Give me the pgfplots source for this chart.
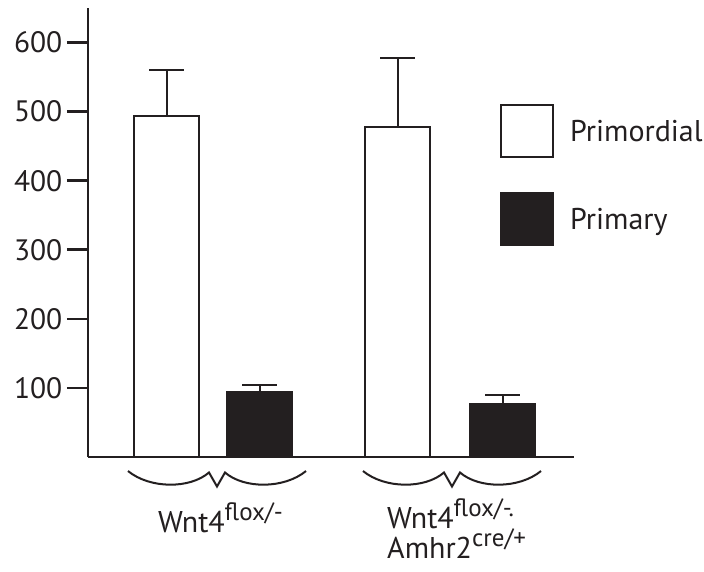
\documentclass[border=0pt]{standalone}
\usepackage{pgfplots}
\pgfplotsset{compat=1.18}
\usepackage{fontspec}
\setmainfont{PT Sans}
\definecolor{ink}{HTML}{231F20}
\newcommand{\sups}[1]{\raisebox{12pt}{\fontsize{25}{25}\selectfont #1}}
\pgfplotsset{boxlegend/.style={legend image code/.code={\draw[##1, line width=2pt] (0pt,-26pt) rectangle (52pt,26pt);}}}
\begin{document}
\begin{tikzpicture}
\useasboundingbox (0,0) rectangle (704pt,-571pt);
\begin{axis}[
 at={(88pt,-457pt)}, anchor=south west,
 scale only axis, width=486pt, height=449pt,
 xmin=88, xmax=574, ymin=0, ymax=650,
 axis lines*=left,
 axis line style={line width=2.6pt, ink},
 xtick=\empty,
 ytick={100,200,...,600},
 tick align=outside,
 major tick length=21pt,
 ytick style={line width=2.6pt, ink},
 yticklabel style={font=\fontsize{29.5}{29.5}\selectfont, text=ink, inner sep=4.5pt},
 /pgf/number format/assume math mode=true,
 clip=false,
 legend style={at={(axis cs:500,511)}, anchor=north west, draw=none, fill=none,
   inner sep=0pt, row sep=34pt, column sep=16pt, font=\fontsize{30}{30}\selectfont,
   text=ink, nodes={inner sep=0pt}},
 legend cell align=left,
]
\addplot[ybar, boxlegend,
  bar width=65, bar shift=0pt, fill=white, draw=ink, line width=2pt,
  error bars/.cd, y dir=plus, y explicit,
  error bar style={line width=2pt, ink},
  error mark options={rotate=90, mark size=17.5pt, line width=2pt, ink}]
  coordinates {(166.7,493.6) +- (0,66.6) (397.5,477.7) +- (0,100.3)};
\addplot[ybar, boxlegend,
  bar width=65, bar shift=0pt, fill=ink, draw=ink, line width=2pt,
  error bars/.cd, y dir=plus, y explicit,
  error bar style={line width=2pt, ink},
  error mark options={rotate=90, mark size=17.5pt, line width=2pt, ink}]
  coordinates {(259.7,94.5) +- (0,10.2) (502.5,76.7) +- (0,12.6)};
\legend{Primordial, Primary}
\draw[ink, line width=2pt] (axis cs:128,-20.3) .. controls (axis cs:150,-46.3) and (axis cs:190,-46.3) .. (axis cs:209,-22.4) -- (axis cs:217,-42.7) -- (axis cs:225,-22.4) .. controls (axis cs:244,-46.3) and (axis cs:284,-46.3) .. (axis cs:306,-20.3);
\draw[ink, line width=2pt] (axis cs:363,-20.3) .. controls (axis cs:385,-46.3) and (axis cs:425,-46.3) .. (axis cs:444,-22.4) -- (axis cs:452,-42.7) -- (axis cs:460,-22.4) .. controls (axis cs:479,-46.3) and (axis cs:519,-46.3) .. (axis cs:541,-20.3);
\node[anchor=base west, text=ink, font=\fontsize{30}{30}\selectfont, inner sep=0pt] at (axis cs:158,-108.6) {Wnt4\sups{flox/-}};
\node[anchor=base west, text=ink, font=\fontsize{30}{30}\selectfont, inner sep=0pt] at (axis cs:387,-102.8) {Wnt4\sups{flox/-.}};
\node[anchor=base west, text=ink, font=\fontsize{30}{30}\selectfont, inner sep=0pt] at (axis cs:387,-146.2) {Amhr2\sups{cre/+}};
\end{axis}
\end{tikzpicture}
\end{document}
